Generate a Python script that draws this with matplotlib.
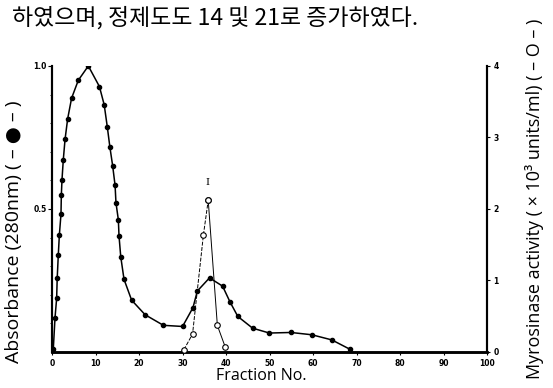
import matplotlib
matplotlib.use("Agg")
import matplotlib.pyplot as plt

# Absorbance at 280 nm (filled circles)
abs_fraction = [0.3, 0.7, 1.07, 1.2, 1.45, 1.7, 2.07, 2.15, 2.3, 2.6, 3.0, 3.6, 4.5, 6.05,
                8.35, 10.9, 12.0, 12.7, 13.3, 13.95, 14.5, 14.7, 15.25, 15.4, 15.8, 16.55,
                18.3, 21.4, 25.6, 30.0, 32.4, 33.4, 36.2, 39.2, 40.9, 42.7, 46.1, 49.95,
                54.9, 59.7, 64.3, 68.5]
abs_value = [0.01, 0.12, 0.187, 0.257, 0.339, 0.41, 0.482, 0.548, 0.602, 0.672, 0.743, 0.815,
             0.887, 0.95, 1.0, 0.928, 0.864, 0.788, 0.717, 0.65, 0.582, 0.522, 0.462, 0.406,
             0.333, 0.254, 0.181, 0.13, 0.093, 0.089, 0.155, 0.213, 0.259, 0.23, 0.175, 0.124,
             0.083, 0.066, 0.068, 0.06, 0.042, 0.009]

# Myrosinase activity (open circles), x10^3 units/ml
act_fraction = [30.3, 32.3, 34.8, 35.9, 38.0, 39.8]
act_value = [0.03, 0.25, 1.64, 2.12, 0.37, 0.07]

x_ticks = [0, 10, 20, 30, 40, 50, 60, 70, 80, 90, 100]
left_ticks = [0.5, 1.0]
left_labels = ["0.5", "1.0"]
right_ticks = [0, 1, 2, 3, 4]

fig = plt.figure(figsize=(5.53, 3.88), dpi=100)
ax = fig.add_axes([0.094, 0.093, 0.787, 0.737])
ax2 = ax.twinx()

ax.plot(abs_fraction, abs_value, color="black", lw=1.1, marker="o", ms=3.0,
        mfc="black", mec="black", zorder=3)

peak = act_value.index(max(act_value))
ax2.plot(act_fraction[:peak + 1], act_value[:peak + 1], color="black", lw=0.7,
         ls=(0, (4, 1.5)), marker="o", ms=4, mfc="white", mec="black", mew=0.8, zorder=4)
ax2.plot(act_fraction[peak:], act_value[peak:], color="black", lw=0.7,
         marker="o", ms=4, mfc="white", mec="black", mew=0.8, zorder=4)
ax2.text(act_fraction[peak] - 0.2, 2.37, "I", ha="center", va="center",
         fontsize=7, family="DejaVu Serif")

ax.set_xlim(0, 100)
ax.set_ylim(0, 1.0)
ax2.set_ylim(0, 4)

for a in (ax, ax2):
    a.spines["top"].set_visible(False)
    a.spines["left"].set_linewidth(1.5)
    a.spines["right"].set_linewidth(1.5)
    a.spines["bottom"].set_linewidth(1.8)

ax.set_xticks(x_ticks)
ax.set_xticklabels([str(t) for t in x_ticks], fontsize=5.5, fontweight="bold")
ax.set_yticks(left_ticks)
ax.set_yticklabels(left_labels, fontsize=5.5, fontweight="bold")
ax.set_yticks([0.1, 0.2, 0.3, 0.4, 0.6, 0.7, 0.8, 0.9], minor=True)
ax.tick_params(axis="x", length=2, width=0.8, pad=3)
ax.tick_params(axis="y", which="major", length=3, width=0.8, pad=1)
ax.tick_params(axis="y", which="minor", length=1.5, width=0.6)

ax2.set_yticks(right_ticks)
ax2.set_yticklabels([str(t) for t in right_ticks], fontsize=5.5, fontweight="bold")
ax2.tick_params(axis="y", length=2.5, width=0.8, pad=2)

label_fonts = ["Open Sans", "DejaVu Sans"]
fig.text(0.026, 0.402, "Absorbance (280nm) ( \u2013 \u25cf \u2013 )", rotation=90,
         ha="center", va="center", fontsize=14, family=label_fonts)
fig.text(0.967, 0.487, "Myrosinase activity ( \u00d7 10\u00b3 units/ml) ( \u2013 O \u2013 )",
         rotation=90, ha="center", va="center", fontsize=13, family=label_fonts)
fig.text(0.472, 0.03, "Fraction No.", ha="center", va="center",
         fontsize=11.5, family=label_fonts)
fig.text(0.022, 0.955, "하였으며, 정제도도 14 및 21로 증가하였다.", ha="left", va="center",
         fontsize=16.5, family=["Noto Sans CJK KR", "DejaVu Sans"])

fig.savefig("out.png", dpi=100)
